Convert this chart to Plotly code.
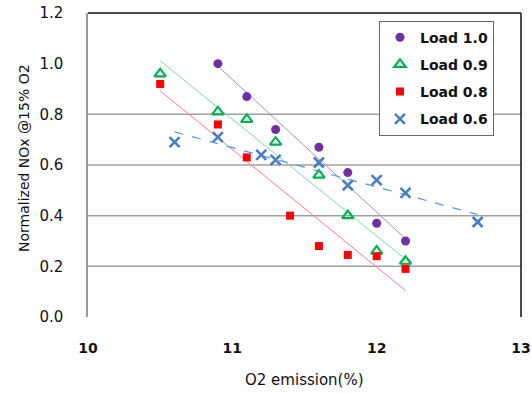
import numpy as np
import plotly.graph_objects as go

# O2 emission (%) and normalized NOx for each load case
x_load10 = [10.9, 11.1, 11.3, 11.6, 11.8, 12.0, 12.2]
y_load10 = [1.00, 0.87, 0.74, 0.67, 0.57, 0.37, 0.30]

x_load09 = [10.5, 10.9, 11.1, 11.3, 11.6, 11.8, 12.0, 12.2]
y_load09 = [0.96, 0.81, 0.78, 0.69, 0.56, 0.40, 0.26, 0.22]

x_load08 = [10.5, 10.9, 11.1, 11.4, 11.6, 11.8, 12.0, 12.2]
y_load08 = [0.92, 0.76, 0.63, 0.40, 0.28, 0.245, 0.24, 0.19]

x_load06 = [10.6, 10.9, 11.2, 11.3, 11.6, 11.8, 12.0, 12.2, 12.7]
y_load06 = [0.69, 0.71, 0.64, 0.62, 0.61, 0.52, 0.54, 0.49, 0.375]

names = ["Load 1.0", "Load 0.9", "Load 0.8", "Load 0.6"]
x_ticks = [10, 11, 12, 13]
y_ticks = [0.0, 0.2, 0.4, 0.6, 0.8, 1.0, 1.2]
grid_vals = [0.2, 0.4, 0.6, 0.8]

FONT = "DejaVu Sans"

series = [
    (x_load10, y_load10, dict(symbol="circle", size=9, color="#7030A0"),
     dict(color="#A78BD6", width=1)),
    (x_load09, y_load09, dict(symbol="triangle-up-open", size=10, color="#00B050",
                             line=dict(width=2.2, color="#00B050")),
     dict(color="#7FD99F", width=1)),
    (x_load08, y_load08, dict(symbol="square", size=8, color="#FF0000"),
     dict(color="#FF7B7B", width=1)),
    (x_load06, y_load06, dict(symbol="x-thin", size=10, color="#4A7EC0",
                             line=dict(width=2.6, color="#4A7EC0")),
     dict(color="#4E9AE0", width=1.2, dash="dash")),
]

fig = go.Figure()

# linear trend line for each load, over that load's O2 range
for (xs, ys, mk, ln), nm in zip(series, names):
    slope, intercept = np.polyfit(xs, ys, 1)
    xt = np.array([min(xs), max(xs)])
    fig.add_trace(go.Scatter(x=xt, y=slope * xt + intercept, mode="lines",
                             line=ln, showlegend=False, hoverinfo="skip"))

for (xs, ys, mk, ln), nm in zip(series, names):
    fig.add_trace(go.Scatter(x=xs, y=ys, mode="markers", name=nm, marker=mk,
                             legendgroup=nm))

shapes = []
for g in grid_vals:
    shapes.append(dict(type="line", xref="paper", x0=0, x1=1, yref="y", y0=g, y1=g,
                       line=dict(color="#A0A0A0", width=1.5), layer="below"))
# plot frame: black top and right edges
shapes.append(dict(type="line", xref="paper", yref="paper", x0=0, x1=1, y0=1, y1=1,
                   line=dict(color="#111111", width=1.5)))
shapes.append(dict(type="line", xref="paper", yref="paper", x0=1, x1=1, y0=0, y1=1,
                   line=dict(color="#111111", width=1.5)))

fig.update_layout(
    width=532, height=393,
    margin=dict(l=88, r=11, t=13, b=76, autoexpand=False),
    paper_bgcolor="white", plot_bgcolor="white",
    font=dict(family=FONT, size=15, color="#111111"),
    shapes=shapes,
    xaxis=dict(range=[10, 13], tickvals=x_ticks, ticktext=[str(v) for v in x_ticks],
               showgrid=False, zeroline=False, showline=False, automargin=False,
               tickfont=dict(size=14, weight="bold"), ticklabelstandoff=21),
    yaxis=dict(range=[0, 1.2], tickvals=y_ticks, ticktext=[f"{v:.1f}" for v in y_ticks],
               showgrid=False, zeroline=False, showline=True, linecolor="#999999",
               linewidth=1.5, automargin=False,
               tickfont=dict(size=15), ticklabelstandoff=20),
    legend=dict(x=0.672, y=0.975, xanchor="left", yanchor="top",
                bgcolor="white", bordercolor="#666666", borderwidth=1,
                font=dict(size=14, weight="bold", color="#111111"),
                tracegroupgap=6, entrywidth=73, itemwidth=30),
    annotations=[
        dict(text="O2 emission(%)", xref="paper", yref="paper", x=0.5, y=0,
             xanchor="center", yanchor="middle", yshift=-63, showarrow=False,
             font=dict(size=15)),
        dict(text="Normalized NOx @15% O2", xref="paper", yref="paper", x=0,
             y=0.5, xanchor="center", yanchor="middle", xshift=-64, yshift=7,
             textangle=-90, showarrow=False, font=dict(size=14)),
    ],
)

fig.write_html("out.html")
